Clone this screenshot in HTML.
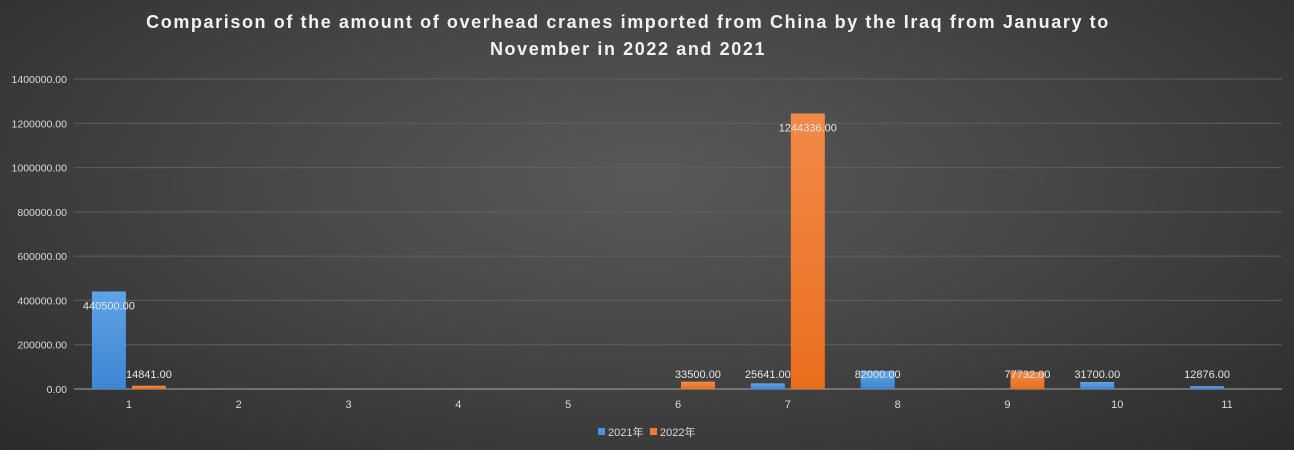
<!DOCTYPE html>
<html><head><meta charset="utf-8"><style>
html,body{margin:0;padding:0;width:1294px;height:450px;overflow:hidden}
body{background:radial-gradient(ellipse at 50% 40%,#595959 0%,#464646 45%,#2b2b2b 100%);font-family:"Liberation Sans","Noto Sans CJK SC",sans-serif}
</style></head><body>
<svg id="chart" width="1294" height="450" xmlns="http://www.w3.org/2000/svg">
<defs>
<linearGradient id="gb" x1="0" y1="0" x2="0" y2="1"><stop offset="0" stop-color="#5fa3e6"/><stop offset="1" stop-color="#3d86d2"/></linearGradient>
<linearGradient id="go" x1="0" y1="0" x2="0" y2="1"><stop offset="0" stop-color="#f28a48"/><stop offset="1" stop-color="#e96e1c"/></linearGradient>
</defs>
<text x="628" y="28" text-anchor="middle" fill="#f2f2f2" font-size="18" font-weight="bold" letter-spacing="1.6">Comparison of the amount of overhead cranes imported from China by the Iraq from January to</text>
<text x="628" y="55" text-anchor="middle" fill="#f2f2f2" font-size="18" font-weight="bold" letter-spacing="1.6">November in 2022 and 2021</text>
<g id="grid"></g><g id="bars"></g><g id="labels"></g>
<g>
<rect x="598" y="428" width="7" height="7" fill="#4a92dc"/>
<text x="608" y="436" fill="#d9d9d9" font-size="11">2021年</text>
<rect x="650" y="428" width="7" height="7" fill="#ed7d31"/>
<text x="660" y="436" fill="#d9d9d9" font-size="11">2022年</text>
</g>
</svg>
<script>
const categories=["1","2","3","4","5","6","7","8","9","10","11"];
const series2021=[440500,0,0,0,0,0,25641,82000,0,31700,12876];
const series2022=[14841,0,0,0,0,33500,1244336,0,77732,0,0];
const yTicks=[0,200000,400000,600000,800000,1000000,1200000,1400000];
const NS="http://www.w3.org/2000/svg";
const L=74,R=1282,Y0=389,Y1=79,YMAX=1400000;
const y=v=>Y0-(v/YMAX)*(Y0-Y1);
const bw=(R-L)/categories.length;
const xc=i=>L+bw*(i+0.5);
function mk(t,a,p,txt){const e=document.createElementNS(NS,t);for(const k in a)e.setAttribute(k,a[k]);if(txt!==undefined)e.textContent=txt;p.appendChild(e);return e;}
const grid=document.getElementById('grid'),bars=document.getElementById('bars'),labels=document.getElementById('labels');
yTicks.forEach(v=>{
  if(v>0){const gl=mk('line',{x1:L,x2:R,y1:y(v),y2:y(v),stroke:'#5f5f5f','stroke-width':1},grid);
  
  }
  const t=mk('text',{x:67,y:y(v)+4,'text-anchor':'end',fill:'#d9d9d9','font-size':10.5},grid,v.toFixed(2));
  
  
});
const ax=mk('line',{x1:L,x2:R,y1:Y0,y2:Y0,stroke:'#a6a6a6','stroke-width':1},grid);


categories.forEach((c,i)=>{
  const t=mk('text',{x:xc(i),y:408,'text-anchor':'middle',fill:'#d9d9d9','font-size':11},grid,c);
  
  
});
function drawSeries(data,off,fill,name){
  data.forEach((v,i)=>{
    if(!v)return;
    const cx=xc(i)+off,top=y(v);
    const r=mk('rect',{x:cx-17,y:top,width:34,height:Y0-top,fill:fill},bars);
    
    
    const ly=Math.min(378,top+18);
    const t=mk('text',{x:cx,y:ly,'text-anchor':'middle',fill:'#e6e6e6','font-size':11},labels,v.toFixed(2));
    
    
  });
}
drawSeries(series2021,-20,'url(#gb)','series-2021');
drawSeries(series2022,20,'url(#go)','series-2022');
</script>
</body></html>
